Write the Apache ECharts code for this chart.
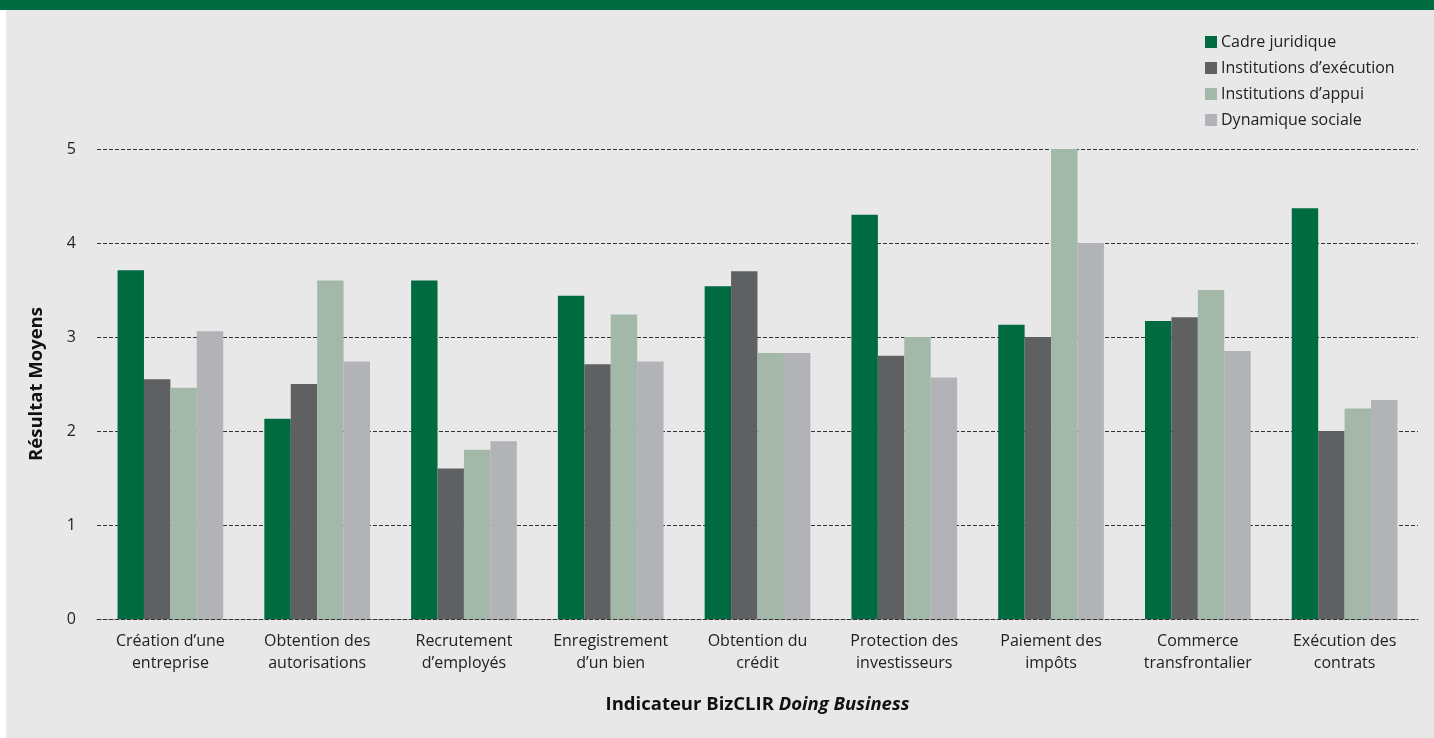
<!DOCTYPE html>
<html>
<head>
<meta charset="utf-8">
<script src="https://cdn.jsdelivr.net/npm/echarts@6/dist/echarts.min.js"></script>
<style>
  html, body { margin: 0; padding: 0; background: #fff; }
  #chart { width: 1434px; height: 738px; }
</style>
</head>
<body>
<div id="chart"></div>
<script>
var categories = [
  "Création d’une\nentreprise", "Obtention des\nautorisations", "Recrutement\nd’employés",
  "Enregistrement\nd’un bien", "Obtention du\ncrédit", "Protection des\ninvestisseurs",
  "Paiement des\nimpôts", "Commerce\ntransfrontalier", "Exécution des\ncontrats"
];
var cadreJuridique   = [3.71, 2.13, 3.60, 3.44, 3.54, 4.30, 3.13, 3.17, 4.37];
var instExecution    = [2.55, 2.50, 1.60, 2.71, 3.70, 2.80, 3.00, 3.21, 2.00];
var instAppui        = [2.46, 3.60, 1.80, 3.24, 2.83, 3.00, 5.00, 3.50, 2.24];
var dynamiqueSociale = [3.06, 2.74, 1.89, 2.74, 2.83, 2.57, 4.00, 2.85, 2.33];

var font = '"Open Sans", Lato, sans-serif';
var chart = echarts.init(document.getElementById('chart'));

function bar(name, data, color) {
  return { name: name, type: 'bar', data: data, barGap: '0%', barCategoryGap: '28%',
           itemStyle: { color: color } };
}

chart.setOption({
  backgroundColor: '#e8e8e8',
  animation: false,
  textStyle: { fontFamily: font },
  graphic: [
    { type: 'rect', left: 0, top: 0, shape: { width: 1434, height: 10 }, style: { fill: '#006b41' } },
    { type: 'rect', left: 0, top: 10, shape: { width: 6, height: 728 }, style: { fill: '#ffffff' } }
  ],
  legend: {
    orient: 'vertical', left: 1200, top: 29, itemWidth: 12, itemHeight: 12, itemGap: 10,
    icon: 'rect', textStyle: { fontSize: 16, color: '#222', fontFamily: font, padding: [0, 0, 0, -1] }
  },
  grid: { left: 97, right: 16, top: 149, bottom: 119 },
  xAxis: {
    type: 'category', data: categories,
    axisLine: { show: true, lineStyle: { type: 'dashed', color: '#333' } },
    axisTick: { show: false },
    axisLabel: { interval: 0, hideOverlap: false, fontSize: 16, color: '#222', lineHeight: 22, margin: 11, fontFamily: font },
    name: '{b|Indicateur BizCLIR }{i|Doing Business}',
    nameLocation: 'middle', nameGap: 76,
    nameTextStyle: { rich: {
      b: { fontSize: 18.5, fontWeight: 'bold', color: '#111', fontFamily: font },
      i: { fontSize: 18.5, fontWeight: 'bold', fontStyle: 'italic', color: '#111', fontFamily: font }
    } }
  },
  yAxis: {
    type: 'value', min: 0, max: 5, interval: 1,
    axisLine: { show: false }, axisTick: { show: false },
    axisLabel: { fontSize: 16, color: '#222', margin: 21, fontFamily: font },
    splitLine: { lineStyle: { type: 'dashed', color: '#333' } },
    name: 'Résultat Moyens', nameLocation: 'middle', nameGap: 51,
    nameTextStyle: { fontSize: 18.5, fontWeight: 'bold', color: '#111', fontFamily: font }
  },
  series: [
    bar('Cadre juridique', cadreJuridique, '#006b41'),
    bar('Institutions d’exécution', instExecution, '#5f6062'),
    bar('Institutions d’appui', instAppui, '#a3b8a8'),
    bar('Dynamique sociale', dynamiqueSociale, '#b2b3b7')
  ]
});
</script>
</body>
</html>
